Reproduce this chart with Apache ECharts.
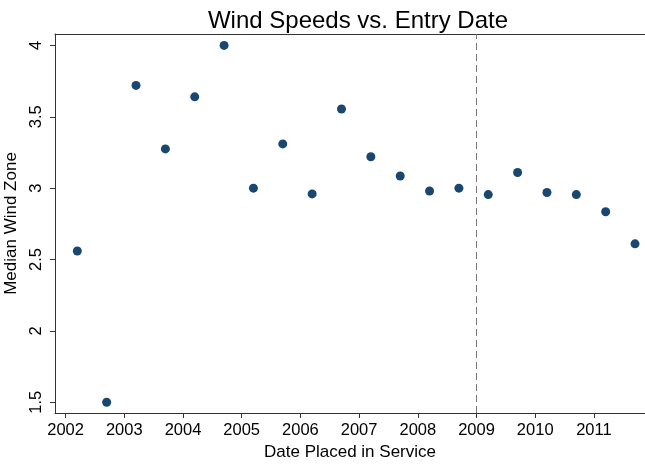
<!DOCTYPE html>
<html>
<head>
<meta charset="utf-8">
<script src="https://cdn.jsdelivr.net/npm/echarts@6/dist/echarts.min.js"></script>
<style>
  html, body { margin: 0; padding: 0; background: #fff; }
  #chart { width: 645px; height: 464px; }
</style>
</head>
<body>
<div id="chart"></div>
<script>
// entry date (fractional year) and median wind zone
const entryDates = [2002.2, 2002.7, 2003.2, 2003.7, 2004.2, 2004.7, 2005.2, 2005.7, 2006.2, 2006.7,
                    2007.2, 2007.7, 2008.2, 2008.7, 2009.2, 2009.7, 2010.2, 2010.7, 2011.2, 2011.7];
const windZones = [2.56, 1.50, 3.72, 3.275, 3.64, 4.00, 3.00, 3.31, 2.96, 3.555,
                   3.22, 3.085, 2.98, 3.00, 2.955, 3.11, 2.97, 2.955, 2.835, 2.61];
const xTicks = [2002, 2003, 2004, 2005, 2006, 2007, 2008, 2009, 2010, 2011];
const yTicks = [1.5, 2, 2.5, 3, 3.5, 4];
const cutoffYear = 2009;

const font = '"Liberation Sans", Arial, Helvetica, sans-serif';
const axisColor = '#333';

const chart = echarts.init(document.getElementById('chart'));
chart.setOption({
  animation: false,
  title: {
    text: 'Wind Speeds vs. Entry Date',
    left: 353,
    textAlign: 'center',
    top: 4,
    textStyle: { fontFamily: font, fontSize: 24, fontWeight: 'normal', color: '#000' }
  },
  grid: { left: 55, right: 0, top: 34, bottom: 51, outerBoundsMode: 'none' },
  xAxis: [{
    type: 'value',
    min: 2001.82,
    max: 2011.87,
    name: 'Date Placed in Service',
    nameLocation: 'middle',
    nameGap: 28,
    nameTextStyle: { fontFamily: font, fontSize: 17, color: '#000' },
    axisLine: { lineStyle: { color: axisColor, width: 1 } },
    axisTick: { show: true, length: 5, customValues: xTicks, lineStyle: { color: axisColor } },
    axisLabel: {
      customValues: xTicks, fontFamily: font, fontSize: 16.5, color: '#000', margin: 9,
      formatter: v => String(v)
    },
    splitLine: { show: false }
  }, {
    type: 'value',
    position: 'top',
    min: 2001.82,
    max: 2011.87,
    axisLine: { show: true, onZero: false, lineStyle: { color: axisColor, width: 1 } },
    axisTick: { show: false },
    axisLabel: { show: false },
    splitLine: { show: false }
  }],
  yAxis: {
    type: 'value',
    min: 1.425,
    max: 4.08,
    name: 'Median Wind Zone',
    nameLocation: 'middle',
    nameGap: 27,
    nameTextStyle: { fontFamily: font, fontSize: 17, color: '#000' },
    axisLine: { show: true, lineStyle: { color: axisColor, width: 1 } },
    axisTick: { show: true, length: 5, customValues: yTicks, lineStyle: { color: axisColor } },
    axisLabel: {
      customValues: yTicks, rotate: 90, fontFamily: font, fontSize: 16.5, color: '#000', margin: 10,
      formatter: v => String(v)
    },
    splitLine: { show: false }
  },
  series: [{
    type: 'scatter',
    data: entryDates.map((d, i) => [d, windZones[i]]),
    symbolSize: 9,
    itemStyle: { color: '#1a476f', opacity: 1 },
    markLine: {
      silent: true,
      symbol: 'none',
      label: { show: false },
      lineStyle: { color: '#777', type: [7, 4], width: 1 },
      data: [{ xAxis: cutoffYear }]
    }
  }]
});
</script>
</body>
</html>
